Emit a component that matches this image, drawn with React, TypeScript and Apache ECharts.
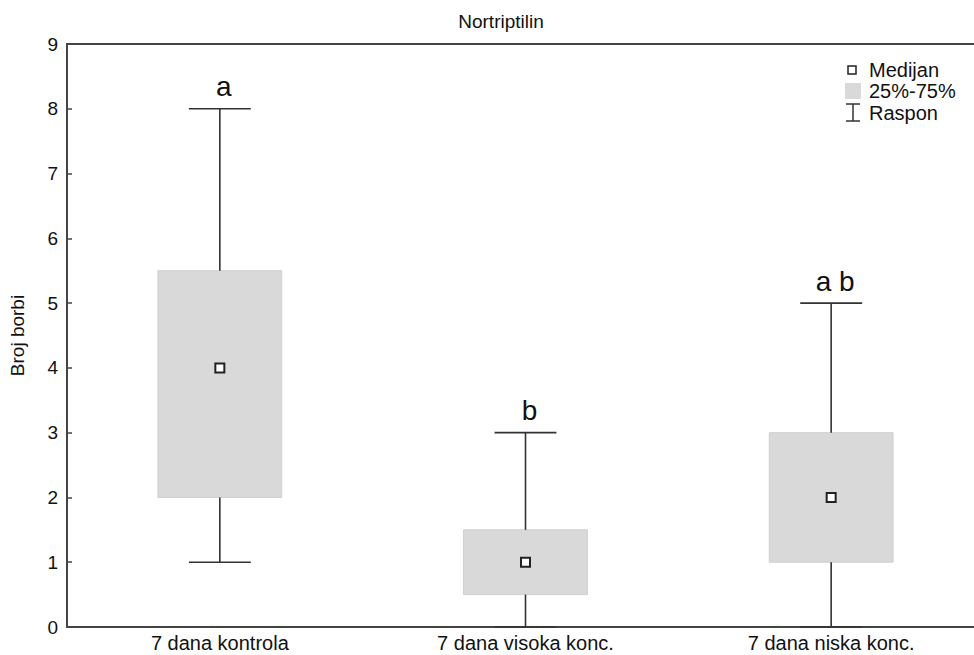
import React, { useEffect, useRef } from "react";
import * as echarts from "echarts";

const categories = ["7 dana kontrola", "7 dana visoka konc.", "7 dana niska konc."];
const minVals = [1, 0, 0];
const q1Vals = [2, 0.5, 1];
const medianVals = [4, 1, 2];
const q3Vals = [5.5, 1.5, 3];
const maxVals = [8, 3, 5];
const groupLetters = ["a", "b", "a b"];
const yTicks = [0, 1, 2, 3, 4, 5, 6, 7, 8, 9];

const FONT = "Liberation Sans, Arial, sans-serif";
const LINE = "#333333";
const BOX = "#d9d9d9";

export default function App() {
  const ref = useRef<HTMLDivElement>(null);
  useEffect(() => {
    if (!ref.current) return;
    const chart = echarts.init(ref.current, null, { renderer: "svg", width: 1100, height: 655 });
    const boxData = categories.map((_, i) => [i, minVals[i], q1Vals[i], medianVals[i], q3Vals[i], maxVals[i]]);
    const medData = categories.map((_, i) => [i, medianVals[i]]);
    chart.setOption({
      animation: false,
      backgroundColor: "#ffffff",
      textStyle: { fontFamily: FONT },
      title: {
        text: "Nortriptilin",
        left: 496,
        textAlign: "center",
        top: 7,
        textStyle: { fontSize: 19, fontWeight: "normal", color: "#111", fontFamily: FONT },
      },
      grid: { left: 66, top: 44, right: 116, bottom: 28, containLabel: false },
      xAxis: [
        {
          type: "category",
          data: categories,
          boundaryGap: true,
          axisLine: { lineStyle: { color: "#444", width: 2 } },
          axisTick: { inside: true, alignWithLabel: true, length: 5, lineStyle: { color: "#444", width: 1.5 } },
          axisLabel: { fontSize: 20, color: "#111", margin: 6, fontFamily: FONT },
        },
        {
          type: "category",
          position: "top",
          data: categories,
          boundaryGap: true,
          axisLine: { lineStyle: { color: "#444", width: 2 } },
          axisTick: { inside: true, alignWithLabel: true, length: 5, lineStyle: { color: "#444", width: 1.5 } },
          axisLabel: { show: false },
        },
      ],
      yAxis: [
        {
          type: "value",
          min: 0,
          max: 9,
          interval: 1,
          name: "Broj borbi",
          nameLocation: "middle",
          nameGap: 40,
          nameTextStyle: { fontSize: 19, color: "#111", fontFamily: FONT },
          axisLine: { show: true, lineStyle: { color: "#444", width: 2 } },
          axisTick: { show: true, inside: true, length: 5, lineStyle: { color: "#444", width: 1.5 } },
          axisLabel: {
            fontSize: 19,
            color: "#111",
            margin: 9,
            fontFamily: FONT,
            formatter: (v: number) => (yTicks.includes(v) ? String(v) : ""),
          },
          splitLine: { show: false },
        },
      ],
      series: [
        {
          type: "custom",
          xAxisIndex: 0,
          yAxisIndex: 0,
          encode: { x: 0, y: [1, 2, 3, 4, 5] },
          data: boxData,
          z: 2,
          renderItem: (params: any, api: any) => {
            const idx = api.value(0);
            const band = api.size([1, 0])[0];
            const boxW = band * 0.405;
            const capW = boxW * 0.5;
            const pMin = api.coord([idx, api.value(1)]);
            const pQ1 = api.coord([idx, api.value(2)]);
            const pQ3 = api.coord([idx, api.value(4)]);
            const pMax = api.coord([idx, api.value(5)]);
            const cx = pMin[0];
            const ls = { stroke: LINE, lineWidth: 1.6 };
            return {
              type: "group",
              children: [
                {
                  type: "rect",
                  shape: { x: cx - boxW / 2, y: pQ3[1], width: boxW, height: pQ1[1] - pQ3[1] },
                  style: { fill: BOX, stroke: "#cfcfcf", lineWidth: 1 },
                },
                { type: "line", shape: { x1: cx, y1: pMax[1], x2: cx, y2: pQ3[1] }, style: ls },
                { type: "line", shape: { x1: cx, y1: pQ1[1], x2: cx, y2: pMin[1] }, style: ls },
                { type: "line", shape: { x1: cx - capW / 2, y1: pMax[1], x2: cx + capW / 2, y2: pMax[1] }, style: ls },
                { type: "line", shape: { x1: cx - capW / 2, y1: pMin[1], x2: cx + capW / 2, y2: pMin[1] }, style: ls },
                {
                  type: "text",
                  style: {
                    x: cx + 4,
                    y: pMax[1] - 8,
                    text: groupLetters[params.dataIndex],
                    fill: "#111",
                    font: `28px ${FONT}`,
                    align: "center",
                    verticalAlign: "bottom",
                  },
                },
              ],
            };
          },
        },
        {
          type: "scatter",
          xAxisIndex: 0,
          yAxisIndex: 0,
          data: medData,
          symbol: "rect",
          symbolSize: 9,
          z: 5,
          itemStyle: { color: "#ffffff", borderColor: "#222", borderWidth: 2, opacity: 1 },
        },
      ],
      graphic: [
        { type: "rect", shape: { x: 848, y: 66, width: 8, height: 8 }, style: { fill: "#fff", stroke: "#222", lineWidth: 1.5 } },
        { type: "rect", shape: { x: 845, y: 83, width: 16, height: 16 }, style: { fill: BOX } },
        { type: "line", shape: { x1: 846, y1: 104, x2: 860, y2: 104 }, style: { stroke: LINE, lineWidth: 1.5 } },
        { type: "line", shape: { x1: 853, y1: 104, x2: 853, y2: 121 }, style: { stroke: LINE, lineWidth: 1.5 } },
        { type: "line", shape: { x1: 846, y1: 121, x2: 860, y2: 121 }, style: { stroke: LINE, lineWidth: 1.5 } },
        { type: "text", x: 869, y: 70, style: { text: "Medijan", fill: "#111", font: `20px ${FONT}`, verticalAlign: "middle" } },
        { type: "text", x: 869, y: 91, style: { text: "25%-75%", fill: "#111", font: `20px ${FONT}`, verticalAlign: "middle" } },
        { type: "text", x: 869, y: 113, style: { text: "Raspon", fill: "#111", font: `20px ${FONT}`, verticalAlign: "middle" } },
      ],
    });
    return () => chart.dispose();
  }, []);
  return (
    <div style={{ position: "fixed", left: 0, top: 0, width: 974, height: 655, overflow: "hidden", background: "#fff" }}>
      <div ref={ref} style={{ width: 1100, height: 655 }} />
    </div>
  );
}
